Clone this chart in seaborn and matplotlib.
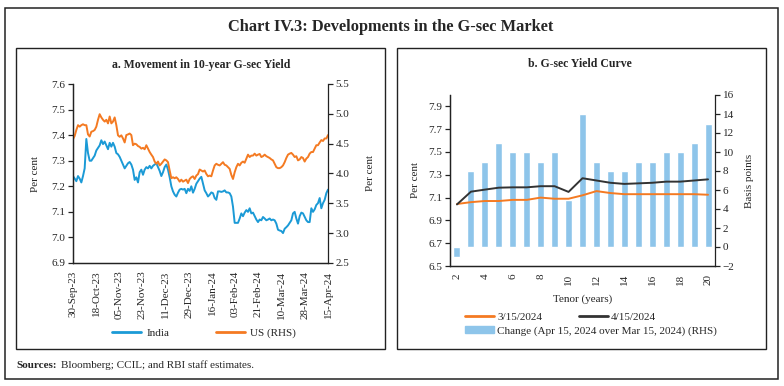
import numpy as np
import pandas as pd
import matplotlib
matplotlib.use("Agg")
from matplotlib import pyplot as plt
import matplotlib.dates as mdates
from matplotlib.patches import Rectangle, Patch
from matplotlib.lines import Line2D
import seaborn as sns

# ---- data: panel a (10-year yields) ----
india = [
    7.24, 7.23, 7.22, 7.24, 7.23, 7.215, 7.24, 7.27, 7.385, 7.33,
    7.30, 7.30, 7.31, 7.32, 7.34, 7.35, 7.36, 7.38, 7.365, 7.375,
    7.36, 7.345, 7.37, 7.355, 7.37, 7.355, 7.33, 7.325, 7.315, 7.30,
    7.285, 7.27, 7.28, 7.29, 7.295, 7.285, 7.265, 7.225, 7.235, 7.215,
    7.255, 7.265, 7.245, 7.265, 7.275, 7.27, 7.28, 7.27, 7.28, 7.285,
    7.29, 7.275, 7.26, 7.24, 7.255, 7.275, 7.285, 7.265, 7.235, 7.20,
    7.18, 7.167, 7.16, 7.175, 7.187, 7.19, 7.187, 7.19, 7.173, 7.19,
    7.182, 7.20, 7.175, 7.19, 7.21, 7.22, 7.23, 7.237, 7.21, 7.184,
    7.173, 7.16, 7.167, 7.176, 7.173, 7.154, 7.147, 7.18, 7.18, 7.178,
    7.18, 7.184, 7.176, 7.176, 7.173, 7.16, 7.12, 7.057, 7.057, 7.057,
    7.074, 7.094, 7.083, 7.097, 7.107, 7.10, 7.114, 7.094, 7.097, 7.083,
    7.07, 7.06, 7.07, 7.067, 7.08, 7.074, 7.067, 7.07, 7.074, 7.067,
    7.07, 7.067, 7.054, 7.03, 7.027, 7.025, 7.017, 7.034, 7.04, 7.047,
    7.057, 7.067, 7.094, 7.10, 7.074, 7.054, 7.083, 7.097, 7.094, 7.08,
    7.067, 7.06, 7.06, 7.114, 7.10, 7.11, 7.127, 7.134, 7.154, 7.114,
    7.134, 7.147, 7.173, 7.187,
]
us = [
    4.576, 4.63, 4.73, 4.81, 4.785, 4.81, 4.825, 4.81, 4.81, 4.655,
    4.62, 4.70, 4.71, 4.73, 4.785, 4.90, 4.994, 4.94, 4.90, 4.87,
    4.90, 4.84, 4.955, 4.84, 4.87, 4.94, 4.81, 4.64, 4.615, 4.64,
    4.587, 4.52, 4.644, 4.655, 4.67, 4.644, 4.474, 4.50, 4.49, 4.46,
    4.446, 4.417, 4.43, 4.406, 4.474, 4.417, 4.36, 4.316, 4.276, 4.20,
    4.163, 4.20, 4.135, 4.163, 4.20, 4.236, 4.22, 4.19, 4.05, 3.92,
    3.937, 3.92, 3.937, 3.908, 3.863, 3.897, 3.863, 3.88, 3.897, 3.84,
    3.908, 3.937, 3.953, 3.908, 3.965, 3.99, 4.067, 4.05, 4.033, 4.05,
    3.993, 3.953, 3.965, 3.953, 4.05, 4.135, 4.163, 4.146, 4.135, 4.163,
    4.19, 4.146, 4.135, 4.106, 4.078, 3.976, 3.908, 4.02, 4.106, 4.163,
    4.135, 4.18, 4.20, 4.18, 4.25, 4.316, 4.276, 4.30, 4.30, 4.333,
    4.30, 4.316, 4.327, 4.276, 4.29, 4.316, 4.29, 4.276, 4.26, 4.236,
    4.22, 4.163, 4.106, 4.09, 4.09, 4.106, 4.135, 4.19, 4.26, 4.316,
    4.333, 4.345, 4.316, 4.276, 4.29, 4.22, 4.236, 4.276, 4.26, 4.20,
    4.25, 4.276, 4.333, 4.36, 4.36, 4.417, 4.474, 4.474, 4.52, 4.56,
    4.545, 4.587, 4.587, 4.644,
]
start_date = "2023-09-30"
end_date = "2024-04-15"
date_ticks = pd.date_range(start_date, end_date, freq="18D")

# ---- data: panel b (yield curve) ----
tenor = list(range(2, 21))
yield_mar15 = [7.044, 7.06, 7.07, 7.07, 7.08, 7.08, 7.10, 7.09, 7.09, 7.12,
               7.157, 7.14, 7.13, 7.13, 7.13, 7.13, 7.13, 7.13, 7.125]
yield_apr15 = [7.04, 7.152, 7.17, 7.187, 7.19, 7.19, 7.20, 7.20, 7.15, 7.27,
               7.25, 7.23, 7.22, 7.225, 7.23, 7.24, 7.24, 7.25, 7.26]
change_bp = [-1, 8, 9, 11, 10, 10, 9, 10, 5, 14, 9, 8, 8, 9, 9, 10, 10, 11, 13]

BLUE = "#1b9ad6"
ORANGE = "#f47a22"
DARK = "#333333"
BAR = "#8ec5ea"

sns.set_theme(style="white")
plt.rcParams["font.family"] = ["Liberation Serif", "DejaVu Serif"]
plt.rcParams["axes.edgecolor"] = "#222222"
plt.rcParams["axes.linewidth"] = 0.9
FS = 8

W, H = 784, 386
fig = plt.figure(figsize=(W / 100, H / 100), dpi=100)


def frect(x0, y0, x1, y1):
    return [x0 / W, 1 - y1 / H, (x1 - x0) / W, (y1 - y0) / H]


# frames
for (x0, y0, x1, y1), lw in [((5, 8, 778, 379), 1.1), ((16, 48, 385, 349), 1.0),
                             ((397, 48, 766, 349), 1.0)]:
    r = frect(x0, y0, x1, y1)
    fig.patches.append(Rectangle((r[0], r[1]), r[2], r[3], transform=fig.transFigure,
                                 fill=False, edgecolor="#222222", linewidth=lw))

fig.text(391 / W, 1 - 27 / H, "Chart IV.3: Developments in the G-sec Market",
         ha="center", va="center", fontsize=11.8, fontweight="bold")
src = fig.text(16 / W, 1 - 365 / H, "Sources:", ha="left", va="center", fontsize=FS,
               fontweight="bold")
fig.canvas.draw()
src_end = src.get_window_extent().x1 / W
fig.text(src_end + 4 / W, 1 - 365 / H, "Bloomberg; CCIL; and RBI staff estimates.",
         ha="left", va="center", fontsize=FS)


def style_axes(ax):
    ax.tick_params(axis="both", which="both", direction="out", length=3.5, width=0.9,
                   color="#222222", labelsize=FS, pad=2)
    ax.spines["top"].set_visible(False)


# ---- panel a ----
ax1 = fig.add_axes(frect(73, 84, 328, 263))
df_a = pd.DataFrame({"date": pd.date_range(start_date, end_date, periods=len(india)),
                     "India": india,
                     "US": us})
sns.lineplot(data=df_a, x="date", y="India", ax=ax1, color=BLUE, lw=1.4)
ax1b = ax1.twinx()
sns.lineplot(data=df_a, x="date", y="US", ax=ax1b, color=ORANGE, lw=1.4)

ax1.set_xlim(pd.Timestamp(start_date), pd.Timestamp(end_date))
ax1.set_ylim(6.9, 7.6)
ax1.set_yticks(np.arange(6.9, 7.61, 0.1))
ax1.set_yticklabels([f"{v:.1f}" for v in np.arange(6.9, 7.61, 0.1)])
ax1b.set_ylim(2.5, 5.5)
ax1b.set_yticks(np.arange(2.5, 5.51, 0.5))
ax1b.set_yticklabels([f"{v:.1f}" for v in np.arange(2.5, 5.51, 0.5)])
ax1.set_xticks(date_ticks)
ax1.xaxis.set_major_formatter(mdates.DateFormatter("%d-%b-%y"))
plt.setp(ax1.get_xticklabels(), rotation=90)
ax1.set_xlabel("")
ax1.set_ylabel("Per cent", fontsize=FS)
ax1b.set_ylabel("Per cent", fontsize=FS)
ax1.yaxis.set_label_coords(-0.128, 0.5)
ax1b.yaxis.set_label_coords(1.15, 0.5)
for a in (ax1, ax1b):
    style_axes(a)
ax1.spines["right"].set_visible(False)
fig.text(201 / W, 1 - 65 / H, "a. Movement in 10-year G-sec Yield",
         ha="center", va="center", fontsize=8.5, fontweight="bold")

fig.legend(handles=[Line2D([], [], color=BLUE, lw=2), Line2D([], [], color=ORANGE, lw=2)],
           labels=["India", "US (RHS)"], ncol=2, frameon=False, fontsize=FS,
           loc="center", bbox_to_anchor=(204 / W, 1 - 333 / H),
           handlelength=2.6, columnspacing=4.2, handletextpad=0.5)

# ---- panel b ----
ax2 = fig.add_axes(frect(450, 95, 715, 266))
ax2b = ax2.twinx()
sns.barplot(x=tenor, y=change_bp, ax=ax2b, color=BAR, native_scale=True,
            width=0.5, saturation=1, errorbar=None)
df_b = pd.DataFrame({"tenor": tenor, "mar": yield_mar15, "apr": yield_apr15})
sns.lineplot(data=df_b, x="tenor", y="mar", ax=ax2, color=ORANGE, lw=1.4)
sns.lineplot(data=df_b, x="tenor", y="apr", ax=ax2, color=DARK, lw=1.4)
ax2.set_zorder(ax2b.get_zorder() + 1)
ax2.patch.set_visible(False)

ax2.set_xlim(1.5, 20.5)
ax2.set_xticks(tenor)
ax2.set_xticklabels([str(t) if t % 2 == 0 else "" for t in tenor], rotation=90)
ax2.set_ylim(6.5, 8.0)
ax2.set_yticks(np.arange(6.5, 7.95, 0.2))
ax2.set_yticklabels([f"{v:.1f}" for v in np.arange(6.5, 7.95, 0.2)])
ax2b.set_ylim(-2, 16)
ax2b.set_yticks(range(-2, 17, 2))
ax2.set_xlabel("Tenor (years)", fontsize=FS)
ax2.xaxis.set_label_coords(0.5, -0.165)
ax2.set_ylabel("Per cent", fontsize=FS)
ax2b.set_ylabel("Basis points", fontsize=FS)
ax2.yaxis.set_label_coords(-0.114, 0.5)
ax2b.yaxis.set_label_coords(1.112, 0.5)
for a in (ax2, ax2b):
    style_axes(a)
ax2.spines["right"].set_visible(False)
fig.text(580 / W, 1 - 64 / H, "b. G-sec Yield Curve",
         ha="center", va="center", fontsize=8.5, fontweight="bold")

fig.legend(handles=[Line2D([], [], color=ORANGE, lw=2), Line2D([], [], color=DARK, lw=2)],
           labels=["3/15/2024", "4/15/2024"], ncol=2, frameon=False, fontsize=FS,
           loc="center left", bbox_to_anchor=(455 / W, 1 - 317 / H),
           handlelength=2.6, columnspacing=3.3, handletextpad=0.3)
fig.legend(handles=[Patch(color=BAR)],
           labels=["Change (Apr 15, 2024 over Mar 15, 2024) (RHS)"], frameon=False,
           fontsize=FS, loc="center left", bbox_to_anchor=(455 / W, 1 - 331 / H),
           handlelength=2.6, handleheight=0.6, handletextpad=0.3)

fig.savefig("out.png", dpi=100)
